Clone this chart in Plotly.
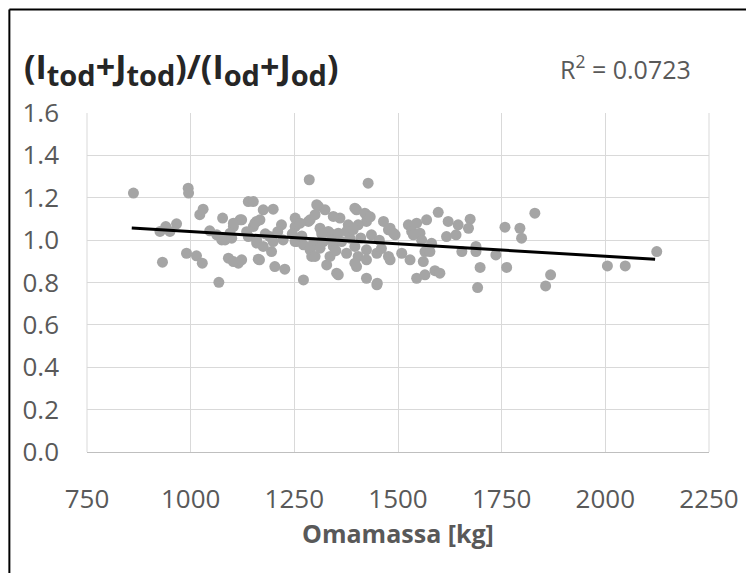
import plotly.graph_objects as go

# Scatter data (Omamassa [kg], ratio)
mass = [862, 994, 995, 1022, 1030, 926, 950, 940, 966, 1046, 932, 990, 1014, 1028, 1068,
        1077, 1075, 1095, 1103, 1119, 1091, 1115, 1103, 1063, 1083, 1099, 1123,
        1139, 1151, 1151, 1159, 1139, 1159, 1175, 1199, 1191, 1195, 1166, 1203, 1227, 1219,
        1223, 1252, 1252, 1256, 1272, 1286, 1284, 1308, 1324, 1296, 1292, 1328, 1352, 1312,
        1336, 1344, 1155, 1167, 1123, 1103, 1159, 1175, 1199, 1252, 1163, 1264, 1272, 1245,
        1135, 1180, 1210, 1268,
        1360, 1380, 1384, 1400, 1424, 1428, 1400, 1424, 1376, 1404, 1449, 1304, 1344, 1288,
        1300, 1396, 1420, 1424, 1465, 1477, 1332, 1356, 1376, 1320, 1364, 1288, 1300, 1312,
        1336, 1396, 1424, 1449, 1396, 1424, 1477, 1356, 1450, 1436, 1404, 1433, 1481, 1493,
        1481, 1489, 1455, 1340, 1410, 1460, 1316, 1392, 1350,
        1525, 1545, 1569, 1597, 1533, 1553, 1621, 1645, 1674, 1670, 1617, 1640, 1581, 1565,
        1509, 1529, 1561, 1545, 1565, 1589, 1601, 1654, 1688, 1688, 1698, 1692, 1736, 1758,
        1794, 1798, 1762, 1830, 1868, 1856, 2005, 2048, 2124, 1577, 1537, 1557]
ratio = [1.222, 1.245, 1.222, 1.120, 1.146, 1.041, 1.041, 1.064, 1.077, 1.044, 0.896, 0.938, 0.926, 0.891, 0.801,
         1.104, 1.001, 1.033, 1.064, 1.096, 0.915, 0.891, 0.899, 1.025, 1.001, 1.009, 0.907,
         1.182, 1.182, 1.064, 1.088, 1.017, 0.986, 1.143, 1.146, 1.017, 0.946, 0.907, 0.875, 0.863, 1.072,
         1.001, 1.104, 1.064, 0.994, 0.812, 1.285, 1.088, 1.159, 1.143, 0.986, 0.923, 0.883, 0.844, 1.056,
         1.033, 0.970, 1.080, 1.096, 1.096, 1.080, 1.001, 0.970, 0.993, 0.993, 0.910, 1.080, 0.978, 1.030,
         1.040, 1.030, 1.040, 1.020,
         1.104, 1.072, 1.009, 1.143, 1.119, 1.269, 0.875, 0.820, 0.938, 0.923, 0.789, 1.167, 1.112, 1.096,
         1.120, 1.151, 1.127, 1.088, 1.088, 1.049, 1.041, 1.033, 1.041, 0.993, 0.993, 0.954, 0.923, 0.962,
         0.923, 0.970, 0.954, 0.938, 0.891, 0.907, 0.923, 0.836, 0.797, 1.025, 1.072, 1.110, 1.056, 1.025,
         0.907, 1.033, 1.000, 1.000, 1.010, 0.960, 1.030, 1.050, 0.950,
         1.072, 1.080, 1.096, 1.131, 1.041, 1.033, 1.088, 1.072, 1.099, 1.056, 1.017, 1.025, 0.985, 0.946,
         0.938, 0.907, 0.899, 0.820, 0.836, 0.856, 0.844, 0.946, 0.970, 0.946, 0.871, 0.776, 0.930, 1.061,
         1.056, 1.009, 0.871, 1.127, 0.836, 0.784, 0.878, 0.878, 0.946, 0.946, 1.025, 1.000]

# Linear trendline end points
trend_x = [858, 2120]
trend_y = [1.057, 0.910]

x_ticks = [750, 1000, 1250, 1500, 1750, 2000, 2250]
y_ticks = [0.0, 0.2, 0.4, 0.6, 0.8, 1.0, 1.2, 1.4, 1.6]

FONT = "Open Sans"
TICK_COL = "#595959"


def sub(s):
    return f'<sub><span style="font-size:29px">{s}</span></sub>'


title_text = ("<b>(I" + sub("tod") + "+J" + sub("tod") + ")/(I" + sub("od") + "+J" + sub("od") + ")</b>")

fig = go.Figure()
fig.add_trace(go.Scatter(x=mass, y=ratio, mode="markers",
                         marker=dict(color="#A5A5A5", size=11, line=dict(width=0)),
                         showlegend=False, hoverinfo="x+y"))
fig.add_trace(go.Scatter(x=trend_x, y=trend_y, mode="lines",
                         line=dict(color="#000000", width=3),
                         showlegend=False, hoverinfo="skip"))

# The page body adds an 8 px offset; margins compensate for it.
fig.update_layout(
    width=754, height=573,
    margin=dict(l=79, r=53, t=105, b=129, autoexpand=False),
    paper_bgcolor="white", plot_bgcolor="white",
    font=dict(family=FONT, color=TICK_COL),
    xaxis=dict(range=[750, 2250], tickvals=x_ticks, ticktext=[str(v) for v in x_ticks],
               showgrid=True, gridcolor="#D9D9D9", gridwidth=1, automargin=False,
               zeroline=False, showline=True, linecolor="#BFBFBF", linewidth=1,
               ticks="", tickfont=dict(size=26, color=TICK_COL), ticklabelstandoff=24,
               title=dict(text="<b>Omamassa [kg]</b>", font=dict(size=25, color=TICK_COL), standoff=10),
               fixedrange=True),
    yaxis=dict(range=[0, 1.6], tickvals=y_ticks, ticktext=[f"{v:.1f}" for v in y_ticks],
               showgrid=True, gridcolor="#D9D9D9", gridwidth=1, automargin=False,
               zeroline=False, showline=False,
               ticks="", tickfont=dict(size=26, color=TICK_COL), ticklabelstandoff=27,
               fixedrange=True),
    shapes=[
        dict(type="line", xref="paper", yref="paper", x0=1, x1=1, y0=0, y1=1,
             line=dict(color="#D9D9D9", width=1)),
        dict(type="line", xref="paper", yref="paper", x0=0, x1=0, y0=0, y1=1,
             line=dict(color="#D9D9D9", width=1)),
        dict(type="line", xref="paper", yref="paper", x0=-0.1248, x1=-0.1248, y0=-0.45, y1=1.305,
             line=dict(color="#000000", width=2)),
        dict(type="line", xref="paper", yref="paper", x0=-0.1248, x1=1.15, y0=1.305, y1=1.305,
             line=dict(color="#000000", width=2)),
    ],
    annotations=[
        dict(xref="paper", yref="paper", x=-0.105, y=1.13, xanchor="left", yanchor="middle",
             showarrow=False, text=title_text,
             font=dict(size=34, color="#262626", family=FONT)),
        dict(xref="paper", yref="paper", x=0.757, y=1.133, xanchor="left", yanchor="middle",
             showarrow=False,
             text="R<sup>2</sup> = 0.0723",
             font=dict(size=25, color=TICK_COL, family=FONT)),
    ],
)

fig.write_html("out.html")
